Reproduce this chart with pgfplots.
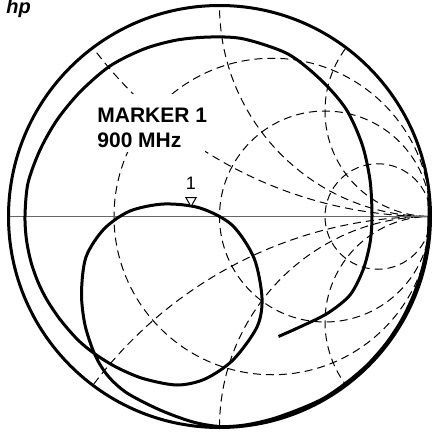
\documentclass[border=0pt]{standalone}
\usepackage{pgfplots}
\pgfplotsset{compat=1.18}
\usepackage{fontspec}
\setmainfont{Liberation Sans}
\begin{document}
\begin{tikzpicture}
\begin{axis}[
  scale only axis, width=216pt, height=216.5pt,
  xmin=0, xmax=432, ymin=0, ymax=433, y dir=reverse,
  hide axis, clip=false,
]
\coordinate (SW) at (rel axis cs:0,0);
\coordinate (NE) at (rel axis cs:1,1);
% Smith grid (dashed)
\begin{scope}
\clip (axis cs:219.5,216.5) circle[radius=211];
\begin{scope}[line width=0.5pt, dash pattern=on 4pt off 2.5pt]
\draw (axis cs:272.25,216.5) circle[radius=158.25];
\draw (axis cs:325,216.5) circle[radius=105.5];
\draw (axis cs:377.75,216.5) circle[radius=52.75];
\draw (axis cs:430.5,-205.5) circle[radius=422];
\draw (axis cs:430.5,638.5) circle[radius=422];
\draw (axis cs:430.5,5.5) circle[radius=211];
\draw (axis cs:430.5,427.5) circle[radius=211];
\draw (axis cs:430.5,111) circle[radius=105.5];
\draw (axis cs:430.5,322) circle[radius=105.5];
\end{scope}
\end{scope}
\fill[white] (axis cs:95,94) rectangle (axis cs:205,152);
% real axis
\draw[gray!80!black, line width=0.6pt] (axis cs:8.5,216.5) -- (axis cs:430.5,216.5);
% outer circle
\draw[line width=1.5pt] (axis cs:219.5,216.5) circle[radius=211];
% trace
\addplot[line width=1.5pt, smooth, tension=0.5] coordinates {
(428.8,195) (429,216.5) (427.7,242) (421.9,270.7) (412.9,296.7) (400.9,321.3) (385.8,343.9) (367.6,364.6) (347.3,382) (324.3,397.9) (300,409) (272,419) (245,425) (220,426.5) (193,422) (160,410) (127,393) (108,376) (95,355) (85,325) (81.5,293) (86,257) (104,229) (130,211) (164,204) (200,208) (232,225) (254,258) (262,298) (257,327) (233,360) (205,379) (177,385) (143,378.5) (116,367) (95,354) (78,340) (60.5,320) (47,300) (38,282) (31,262) (26.5,240) (25,216) (28,183) (40,150) (57,120) (80,92) (110,66) (144,49) (177,40) (211,37) (244,39) (288,54) (321,80) (346,109) (362,144) (370,180) (372,216) (370,243) (363,270) (350,295) (328,313) (302,326) (278.5,336.5)
};
% marker
\addplot[only marks, mark=triangle*, mark size=3pt, mark options={rotate=180, fill=white, draw=black, line width=0.5pt}] coordinates {(191,200.5)};
\node[anchor=base, font=\fontsize{9}{10}\selectfont, inner sep=0pt] at (axis cs:191,189) {1};
\node[anchor=base west, font=\fontsize{10.5}{12}\selectfont\bfseries, inner sep=0pt] at (axis cs:97,122) {MARKER 1};
\node[anchor=base west, font=\fontsize{10.5}{12}\selectfont\bfseries, inner sep=0pt] at (axis cs:97,148) {900 MHz};
\node[anchor=base west, font=\fontsize{10}{12}\selectfont\bfseries\itshape, inner sep=0pt] at (axis cs:6,14) {hp};
\end{axis}
\pgfresetboundingbox
\path[use as bounding box] (SW) rectangle (NE);
\end{tikzpicture}
\end{document}
